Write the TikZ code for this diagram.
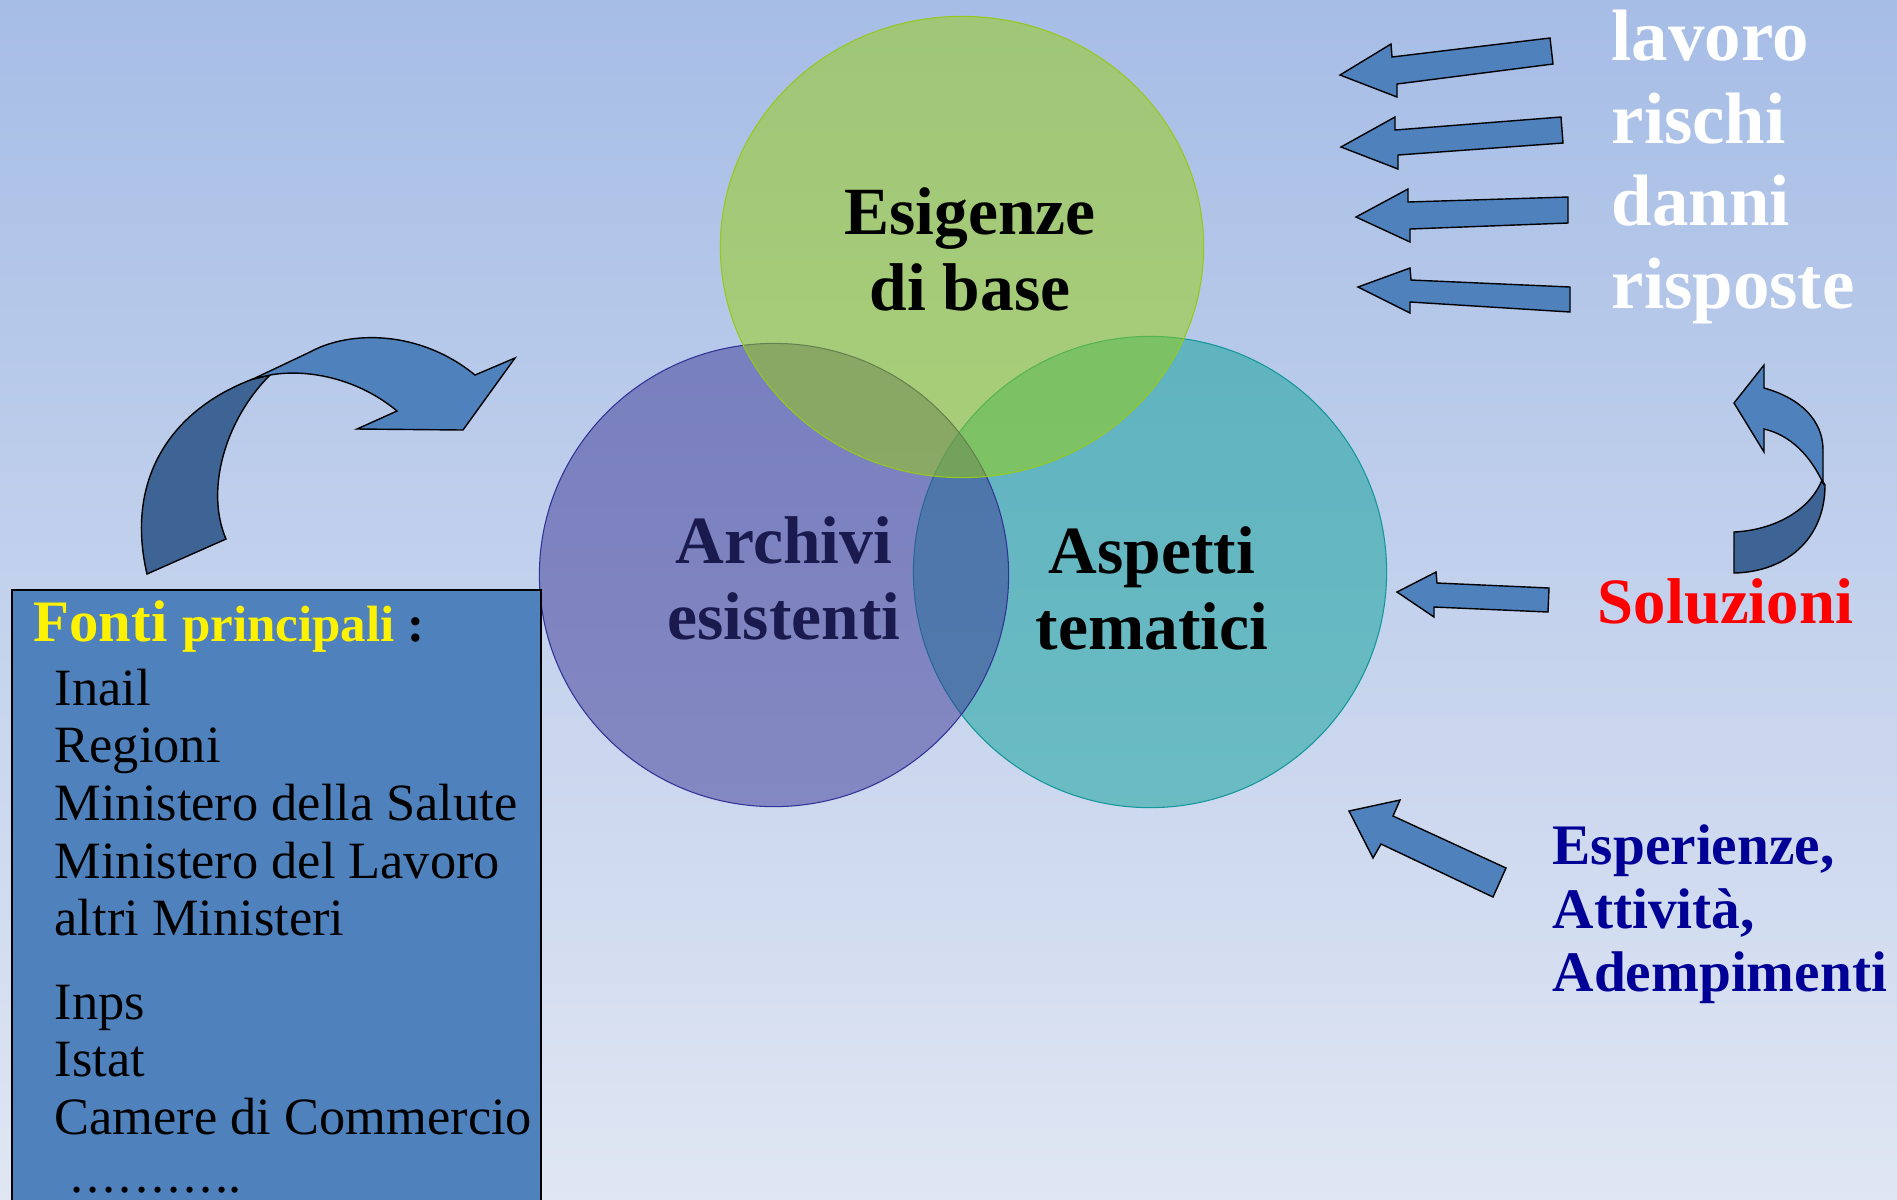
\documentclass[tikz,border=0pt]{standalone}
\usepackage{fontspec}
\setmainfont{Liberation Serif}
\usetikzlibrary{shapes.geometric}
\definecolor{bgtop}{RGB}{166,189,230}
\definecolor{bgbot}{RGB}{224,230,243}
\definecolor{vgreen}{RGB}{152,208,10}
\definecolor{vgreenline}{RGB}{150,200,30}
\definecolor{vpurple}{RGB}{60,56,150}
\definecolor{vpurpleline}{RGB}{50,50,150}
\definecolor{vteal}{RGB}{10,160,152}
\definecolor{vtealline}{RGB}{20,150,155}
\definecolor{arrowblue}{RGB}{79,129,189}
\definecolor{arrowdark}{RGB}{62,100,150}
\definecolor{navy}{RGB}{0,0,150}
\definecolor{archnavy}{RGB}{26,26,78}

\begin{document}
\begin{tikzpicture}[
    x=0.01cm, y=-0.01cm,
    venn/.style={
        ellipse,
        line width=0.3pt,
        fill opacity=0.5,
        inner sep=0pt
    },
    venntext/.style={
        align=center,
        inner sep=0pt,
        font=\fontsize{19.2}{21.6}\selectfont\bfseries
    },
    blockarrow/.style={draw=black, line width=0.4pt, fill=arrowblue},
    backarrow/.style={draw=black, line width=0.4pt, fill=arrowdark},
    word/.style={anchor=base west, inner sep=0pt, text=white, font=\fontsize{20.7}{24}\selectfont\bfseries},
    sourcebox/.style={draw=black, line width=0.5pt, fill=arrowblue, inner sep=0pt},
    source/.style={anchor=base west, inner sep=0pt, font=\fontsize{14.9}{16.4}\selectfont}
]
    % Background
    \shade[top color=bgtop, bottom color=bgbot] (0,0) rectangle (1897,1199);
    \useasboundingbox (0,0) rectangle (1897,1199);

    % Venn circles
    \node[venn, draw=vtealline, fill=vteal, minimum width=4.73cm, minimum height=4.71cm] (aspetti) at (1150,572) {};
    \node[venn, draw=vpurpleline, fill=vpurple, minimum width=4.69cm, minimum height=4.63cm] (archivi) at (774,575) {};
    \node[venn, draw=vgreenline, fill=vgreen, minimum width=4.83cm, minimum height=4.61cm] (esigenze) at (962,247) {};

    \node[venntext] (esigtxt) at (970,249) {Esigenze\\di base};
    \node[venntext, text=archnavy] (archtxt) at (784,578) {Archivi\\esistenti};
    \node[venntext] (asptxt) at (1152,588) {Aspetti\\tematici};

    % Right words and arrows
    \foreach \w/\yy [count=\i] in {lavoro/60, rischi/143, danni/225, risposte/308}
        \node[word] (word\i) at (1611,\yy) {\w};

    \draw[blockarrow] (1340,75) -- (1391,44) -- (1392,57) -- (1550,38) -- (1553,64) -- (1397,84) -- (1397,97) -- cycle;
    \draw[blockarrow] (1341,147) -- (1395,117) -- (1395,130) -- (1561,117) -- (1563,143) -- (1398,155) -- (1398,169) -- cycle;
    \draw[blockarrow] (1356,217) -- (1408,189) -- (1408,202) -- (1568,197) -- (1568,223) -- (1410,229) -- (1410,242) -- cycle;
    \draw[blockarrow] (1358,287) -- (1410,268) -- (1411,280) -- (1570,287) -- (1570,312) -- (1410,302) -- (1410,313) -- cycle;

    % Soluzioni
    \node[anchor=base west, inner sep=0pt, text=red, font=\fontsize{18.4}{20}\selectfont\bfseries] (soluzioni) at (1597,623) {Soluzioni};
    \draw[blockarrow] (1397,592) -- (1436,572) -- (1437,583) -- (1549,588) -- (1548,612) -- (1434,607) -- (1434,617) -- cycle;

    \draw[backarrow] (1822,480) .. controls (1810,510) and (1775,530) .. (1734,532) -- (1734,573)
        .. controls (1785,572) and (1825,540) .. (1825,485) -- cycle;
    \draw[blockarrow] (1764,388) .. controls (1800,398) and (1823,420) .. (1823,450) -- (1823,483)
        .. controls (1810,455) and (1790,435) .. (1764,429) -- (1764,452) -- (1734,403) -- (1764,365) -- cycle;

    % Esperienze
    \node[anchor=north west, align=left, inner sep=0pt, text=navy, font=\fontsize{16.3}{18.1}\selectfont\bfseries] (esperienze) at (1552,824) {Esperienze,\\Attività,\\Adempimenti};
    \draw[blockarrow] (1349,811) -- (1400,800) -- (1393,816) -- (1506,868) -- (1493,897) -- (1381,844) -- (1373,858) -- cycle;

    % Curved arrow over the sources
    \draw[backarrow] (147,574) .. controls (125,480) and (170,410) .. (253,379) -- (270,375)
        .. controls (225,420) and (205,490) .. (226,539) -- cycle;
    \draw[blockarrow] (253,379) -- (310,352) .. controls (350,330) and (420,330) .. (475,375)
        -- (515,358) -- (463,430) -- (357,429) -- (397,411)
        .. controls (360,380) and (310,368) .. (270,375) -- cycle;

    % Sources
    \node[sourcebox, anchor=north west, minimum width=5.29cm, minimum height=6.4cm] (fonti) at (11,589) {};
    \node[anchor=base west, inner sep=0pt, font=\bfseries] (fontititle) at (33,641)
        {\fontsize{16.7}{20}\selectfont\textcolor{yellow}{Fonti} \fontsize{14.5}{17}\selectfont\textcolor{yellow}{principali} :};
    \foreach \src/\yy [count=\i] in {Inail/705, Regioni/762, Ministero della Salute/820, Ministero del Lavoro/878,
            altri Ministeri/935, Inps/1019, Istat/1076, Camere di Commercio/1134}
        \node[source] (src\i) at (54,\yy) {\src};
    \node[source] (srcdots) at (70,1192) {.\kern0.03cm.\kern0.03cm.\kern0.03cm.\kern0.03cm.\kern0.03cm.\kern0.03cm.\kern0.03cm.\kern0.03cm.\kern0.03cm..};
\end{tikzpicture}
\end{document}
